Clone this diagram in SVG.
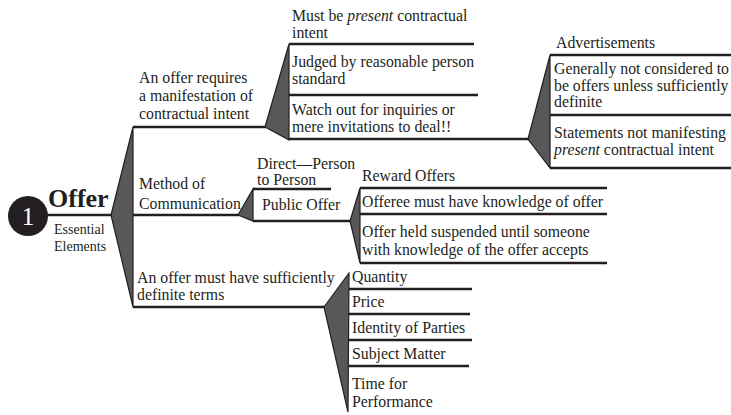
<svg xmlns="http://www.w3.org/2000/svg" width="731" height="415" viewBox="0 0 731 415">
<style>
text{font-family:"Liberation Serif","Tinos","Times New Roman","DejaVu Serif",serif;fill:#231f20}
.t{font-size:15.8px}
.ln{stroke:#231f20;stroke-width:2.5;fill:none}
.w{fill:#58585a;stroke:#231f20;stroke-width:1.2;stroke-linejoin:miter}
</style>
<rect width="731" height="415" fill="#fff"/>
<g id="connectors">
<line class="ln" x1="45" y1="215" x2="112" y2="215"/>
<polygon class="w" points="111,215 133,127 133,307"/>
<line class="ln" x1="133" y1="127" x2="266" y2="127"/>
<line class="ln" x1="133" y1="215" x2="239" y2="215"/>
<line class="ln" x1="133" y1="307" x2="325" y2="307"/>
<polygon class="w" points="265,127 289,44 289,140"/>
<line class="ln" x1="289" y1="44" x2="474" y2="44"/>
<line class="ln" x1="289" y1="95" x2="478" y2="95"/>
<line class="ln" x1="289" y1="139" x2="529" y2="139"/>
<polygon class="w" points="528,139 550,55 550,168"/>
<line class="ln" x1="550" y1="55" x2="731" y2="55"/>
<line class="ln" x1="550" y1="115" x2="731" y2="115"/>
<line class="ln" x1="550" y1="168" x2="731" y2="168"/>
<polygon class="w" points="238,215 253,189 253,221"/>
<line class="ln" x1="253" y1="189" x2="331" y2="189"/>
<line class="ln" x1="253" y1="221" x2="351" y2="221"/>
<polygon class="w" points="350,221 360,188 360,263"/>
<line class="ln" x1="360" y1="188" x2="607" y2="188"/>
<line class="ln" x1="360" y1="214" x2="607" y2="214"/>
<line class="ln" x1="360" y1="263" x2="607" y2="263"/>
<polygon class="w" points="324,307 349,273 348,412"/>
<line class="ln" x1="349" y1="289" x2="472" y2="289"/>
<line class="ln" x1="349" y1="314" x2="470" y2="314"/>
<line class="ln" x1="349" y1="340" x2="472" y2="340"/>
<line class="ln" x1="349" y1="366" x2="469" y2="366"/>
</g>
<g id="root">
<circle cx="28" cy="216" r="20" fill="#231f20"/>
<text x="28" y="225" text-anchor="middle" font-size="25" style="fill:#fff">1</text>
<text x="48" y="207" font-size="26" font-weight="bold">Offer</text>
<text x="54" y="234" font-size="14">Essential</text>
<text x="54" y="251" font-size="14">Elements</text>
</g>
<g id="n-intent">
<text class="t" x="139" y="83">An offer requires</text>
<text class="t" x="139" y="101">a manifestation of</text>
<text class="t" x="139" y="119">contractual intent</text>
</g>
<g id="n-present">
<text class="t" x="292" y="21">Must be <tspan font-style="italic">present</tspan> contractual</text>
<text class="t" x="292" y="38">intent</text>
</g>
<g id="n-judged">
<text class="t" x="292" y="67">Judged by reasonable person</text>
<text class="t" x="292" y="84">standard</text>
</g>
<g id="n-watch">
<text class="t" x="292" y="115">Watch out for inquiries or</text>
<text class="t" x="292" y="132">mere invitations to deal!!</text>
</g>
<g id="n-ads">
<text class="t" x="556" y="48">Advertisements</text>
</g>
<g id="n-generally">
<text class="t" x="554" y="74">Generally not considered to</text>
<text class="t" x="554" y="91">be offers unless sufficiently</text>
<text class="t" x="554" y="107">definite</text>
</g>
<g id="n-statements">
<text class="t" x="554" y="138">Statements not manifesting</text>
<text class="t" x="554" y="155"><tspan font-style="italic">present</tspan> contractual intent</text>
</g>
<g id="n-method">
<text class="t" x="139" y="189">Method of</text>
<text class="t" x="139" y="209">Communication</text>
</g>
<g id="n-direct">
<text class="t" x="257" y="169">Direct—Person</text>
<text class="t" x="257" y="185">to Person</text>
</g>
<g id="n-public">
<text class="t" x="262" y="210">Public Offer</text>
</g>
<g id="n-reward">
<text class="t" x="362" y="181">Reward Offers</text>
</g>
<g id="n-offeree">
<text class="t" x="362" y="207">Offeree must have knowledge of offer</text>
</g>
<g id="n-held">
<text class="t" x="362" y="237">Offer held suspended until someone</text>
<text class="t" x="362" y="255">with knowledge of the offer accepts</text>
</g>
<g id="n-terms">
<text class="t" x="137" y="283">An offer must have sufficiently</text>
<text class="t" x="137" y="300">definite terms</text>
</g>
<g id="n-quantity"><text class="t" x="352" y="282">Quantity</text></g>
<g id="n-price"><text class="t" x="352" y="307">Price</text></g>
<g id="n-identity"><text class="t" x="352" y="333">Identity of Parties</text></g>
<g id="n-subject"><text class="t" x="352" y="359">Subject Matter</text></g>
<g id="n-time">
<text class="t" x="352" y="389">Time for</text>
<text class="t" x="352" y="407">Performance</text>
</g>
</svg>
